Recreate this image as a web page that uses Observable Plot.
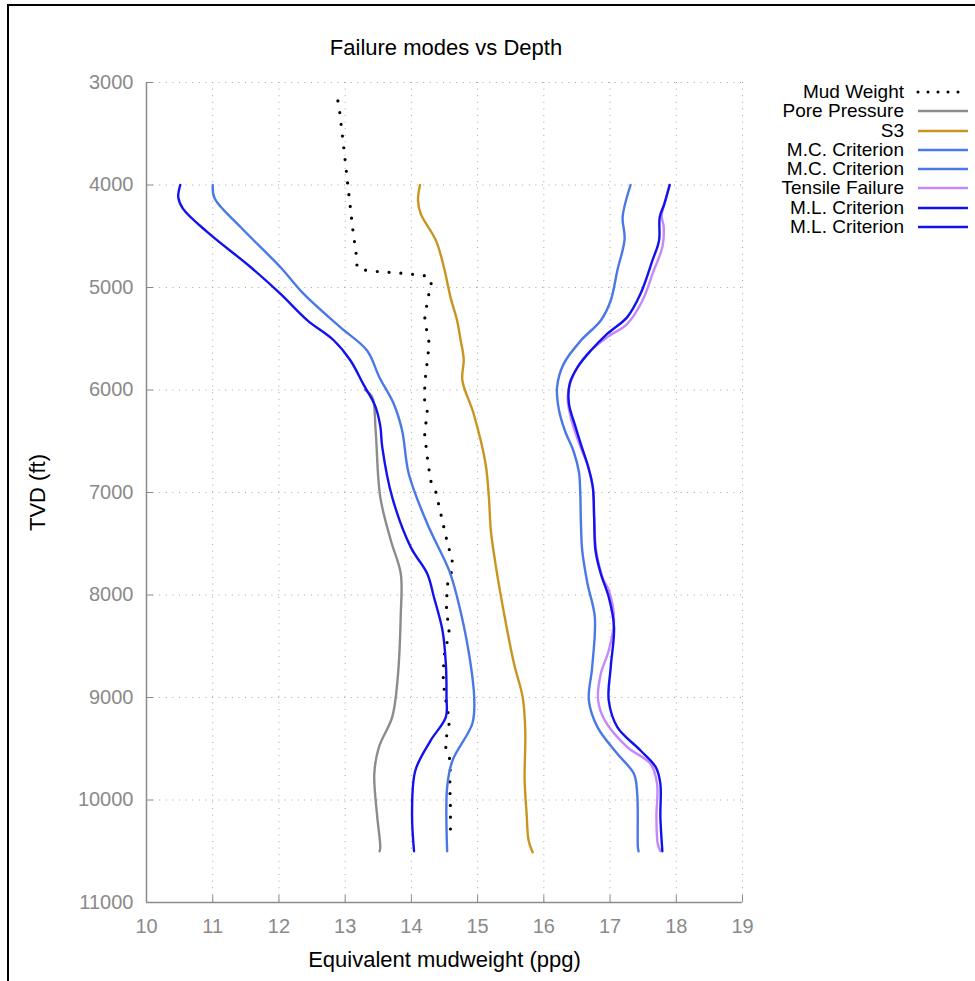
<!DOCTYPE html>
<html>
<head>
<meta charset="utf-8">
<script src="https://cdn.jsdelivr.net/npm/d3@7"></script>
<script src="https://cdn.jsdelivr.net/npm/@observablehq/plot@0.6"></script>
<style>
  html, body { margin: 0; padding: 0; background: #fff; }
  #wrap { position: relative; width: 975px; height: 981px; overflow: hidden; font-family: "Liberation Sans", Arial, Helvetica, sans-serif; }
  #frame { position: absolute; left: 7px; top: 4px; width: 1000px; height: 1000px; border-top: 2px solid #000; border-left: 2px solid #000; }
  #title { position: absolute; left: 0; width: 892px; text-align: center; top: 35px; font-size: 22px; color: #000; }
  #chart { position: absolute; left: 0; top: 0; }
  #legend { position: absolute; left: 700px; top: 82px; }
  .row { position: relative; height: 19.3px; width: 275px; }
  .row span { position: absolute; right: 71px; top: 0; font-size: 19px; line-height: 19.3px; white-space: nowrap; color: #000; }
  .row svg { position: absolute; left: 216px; top: 0; }
  svg [aria-label="x-axis label"], svg [aria-label="y-axis label"] { font-size: 22px; fill: #000; }
</style>
</head>
<body>
<div id="wrap">
  <div id="frame"></div>
  <div id="chart"></div>
  <div id="title">Failure modes vs Depth</div>
  <div id="legend"></div>
</div>
<script>
// ---- data (ppg, TVD ft) ----
const xTicks = [10, 11, 12, 13, 14, 15, 16, 17, 18, 19];
const yTicks = [3000, 4000, 5000, 6000, 7000, 8000, 9000, 10000, 11000];
const xDomain = [10, 19];
const yDomain = [3000, 11000];

const mudWeight = [[12.89,3180],[12.92,3300],[12.96,3530],[13.0,3760],[13.04,4000],[13.08,4230],[13.12,4460],[13.17,4690],[13.18,4810],[13.35,4838],[13.89,4862],[14.25,4889],[14.31,4980],[14.25,5094],[14.2,5312],[14.27,5546],[14.21,5888],[14.2,6005],[14.2,6133],[14.24,6210],[14.2,6428],[14.24,6655],[14.29,6883],[14.37,6997],[14.45,7224],[14.53,7451],[14.62,7679],[14.6,7793],[14.54,7907],[14.53,8134],[14.57,8362],[14.53,8490],[14.49,8606],[14.48,8834],[14.5,8948],[14.56,9176],[14.57,9289],[14.52,9403],[14.52,9517],[14.59,9615],[14.58,9859],[14.59,10086],[14.59,10340]];

const porePressure = [[13.3,6000],[13.41,6070],[13.46,6395],[13.53,7045],[13.69,7468],[13.84,7793],[13.84,8183],[13.79,8833],[13.71,9192],[13.51,9484],[13.44,9744],[13.48,10135],[13.53,10460],[13.52,10500]];

const s3 = [[14.13,4000],[14.1,4150],[14.14,4280],[14.37,4540],[14.49,4800],[14.59,5094],[14.69,5322],[14.74,5500],[14.79,5700],[14.77,5907],[14.94,6232],[15.12,6719],[15.17,7045],[15.2,7371],[15.27,7696],[15.4,8183],[15.55,8671],[15.68,8996],[15.72,9322],[15.71,9810],[15.74,10135],[15.77,10395],[15.83,10510]];

const mcLeft = [[11.0,4000],[11.03,4132],[11.42,4410],[12.02,4800],[12.37,5060],[12.93,5390],[13.33,5615],[13.52,5880],[13.73,6130],[13.86,6395],[13.96,6817],[14.24,7305],[14.57,7760],[14.69,8020],[14.87,8573],[14.95,9028],[14.92,9256],[14.62,9615],[14.54,9874],[14.54,10500]];

const mcRight = [[17.31,4000],[17.19,4314],[17.22,4525],[17.11,4834],[17.01,5127],[16.86,5322],[16.56,5517],[16.3,5745],[16.2,5972],[16.23,6200],[16.32,6400],[16.45,6600],[16.53,6800],[16.55,7000],[16.56,7300],[16.58,7566],[16.66,7891],[16.77,8216],[16.73,8704],[16.68,9029],[16.81,9289],[17.11,9549],[17.36,9744],[17.41,9939],[17.42,10460],[17.43,10500]];

const tensile = [[17.9,4000],[17.82,4184],[17.78,4300],[17.81,4411],[17.79,4606],[17.66,4834],[17.49,5127],[17.26,5354],[16.96,5484],[16.66,5647],[16.45,5850],[16.36,6070],[16.42,6300],[16.55,6550],[16.67,6750],[16.74,6950],[16.76,7250],[16.79,7566],[16.9,7850],[16.98,7950],[17.06,8248],[16.98,8541],[16.86,8769],[16.82,9029],[16.92,9224],[17.26,9484],[17.61,9647],[17.71,9842],[17.7,10167],[17.72,10427],[17.76,10500]];

const mlLeft = [[10.51,4000],[10.48,4120],[10.55,4230],[10.92,4460],[11.57,4800],[12.02,5060],[12.43,5320],[12.83,5517],[13.08,5712],[13.28,5950],[13.45,6150],[13.53,6350],[13.56,6557],[13.71,7045],[13.99,7533],[14.24,7793],[14.34,8020],[14.47,8346],[14.52,8670],[14.53,8996],[14.52,9192],[14.29,9420],[14.06,9712],[14.01,10135],[14.04,10500]];

const mlRight = [[17.9,4000],[17.82,4184],[17.75,4314],[17.74,4541],[17.64,4736],[17.46,5062],[17.26,5289],[16.96,5451],[16.71,5615],[16.51,5777],[16.39,5939],[16.38,6135],[16.48,6362],[16.57,6550],[16.67,6750],[16.74,6950],[16.76,7250],[16.78,7566],[16.86,7793],[16.98,8020],[17.06,8313],[17.01,8704],[16.98,9029],[17.11,9289],[17.46,9517],[17.69,9680],[17.76,9842],[17.76,10167],[17.79,10500]];

const seriesNames = ["Mud Weight","Pore Pressure","S3","M.C. Criterion","M.C. Criterion","Tensile Failure","M.L. Criterion","M.L. Criterion"];
const seriesData = [mudWeight, porePressure, s3, mcLeft, mcRight, tensile, mlLeft, mlRight];
const seriesColors = ["#000000","#8c8c8c","#c8951f","#4a78e6","#4a78e6","#c488fa","#1212ee","#1212ee"];
const seriesDashed = [true,false,false,false,false,false,false,false];

// ---- chart ----
const lineMarks = seriesData.map((data, i) => seriesDashed[i]
  ? Plot.line(data, {x: d => d[0], y: d => d[1], stroke: seriesColors[i], strokeWidth: 3.2, strokeDasharray: "0,11.8", strokeLinecap: "round", curve: "linear"})
  : Plot.line(data, {x: d => d[0], y: d => d[1], stroke: seriesColors[i], strokeWidth: 2.4, curve: "catmull-rom"}));

const chart = Plot.plot({
  width: 975,
  height: 981,
  marginLeft: 146,
  marginRight: 233,
  marginTop: 82,
  marginBottom: 79,
  style: {fontFamily: '"Liberation Sans", Arial, Helvetica, sans-serif', fontSize: "20px", background: "transparent"},
  x: {domain: xDomain},
  y: {domain: yDomain, reverse: true},
  marks: [
    Plot.gridX(xTicks, {stroke: "#9a9a9a", strokeOpacity: 0.9, strokeWidth: 1, strokeDasharray: "1,5.6"}),
    Plot.gridY(yTicks, {stroke: "#9a9a9a", strokeOpacity: 0.9, strokeWidth: 1, strokeDasharray: "1,5.6"}),
    Plot.ruleX([xDomain[0]], {stroke: "#8c8c8c", strokeWidth: 1.5}),
    Plot.ruleY([yDomain[1]], {stroke: "#8c8c8c", strokeWidth: 1.5}),
    Plot.axisX(xTicks, {anchor: "bottom", color: "#8a8a8a", tickSize: -7, tickPadding: 23, tickFormat: d => String(d),
      label: "Equivalent mudweight (ppg)", labelAnchor: "center", labelArrow: "none", labelOffset: 64}),
    Plot.axisY(yTicks, {anchor: "left", color: "#8a8a8a", tickSize: -7, tickPadding: 20, tickFormat: d => String(d),
      label: "TVD (ft)", labelAnchor: "center", labelArrow: "none", labelOffset: 117}),
    ...lineMarks
  ]
});
document.getElementById("chart").appendChild(chart);

// ---- legend ----
const legend = document.getElementById("legend");
seriesNames.forEach((name, i) => {
  const row = document.createElement("div");
  row.className = "row";
  const span = document.createElement("span");
  span.textContent = name;
  row.appendChild(span);
  const ns = "http://www.w3.org/2000/svg";
  const s = document.createElementNS(ns, "svg");
  s.setAttribute("width", "56"); s.setAttribute("height", "19");
  const l = document.createElementNS(ns, "line");
  l.setAttribute("x1", "2"); l.setAttribute("x2", "52");
  l.setAttribute("y1", "10"); l.setAttribute("y2", "10");
  l.setAttribute("stroke", seriesColors[i]);
  if (seriesDashed[i]) {
    l.setAttribute("stroke-width", "3"); l.setAttribute("stroke-dasharray", "0,10"); l.setAttribute("stroke-linecap", "round");
  } else {
    l.setAttribute("stroke-width", "2.4");
  }
  s.appendChild(l);
  row.appendChild(s);
  legend.appendChild(row);
});
</script>
</body>
</html>
